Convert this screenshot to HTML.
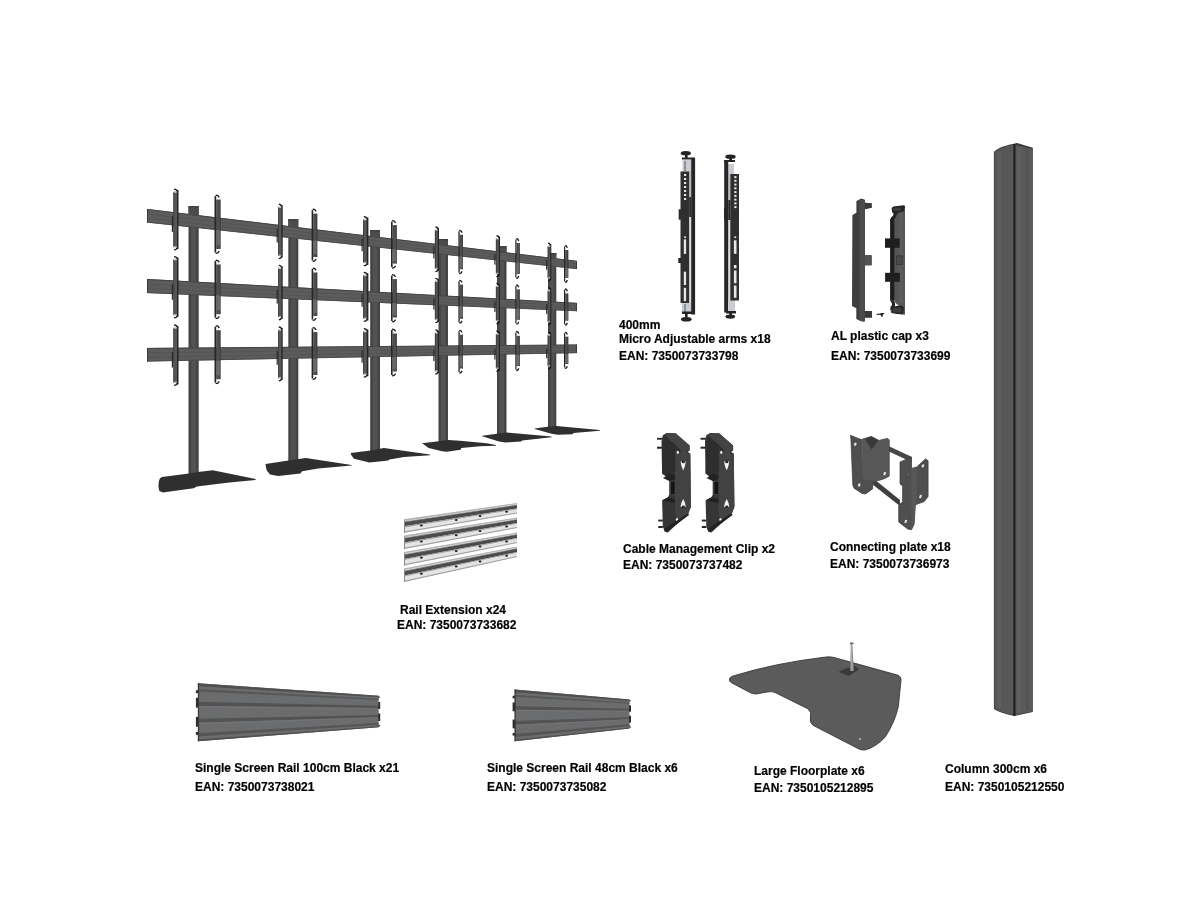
<!DOCTYPE html>
<html><head><meta charset="utf-8"><style>
html,body{margin:0;padding:0;background:#fff;width:1200px;height:900px;overflow:hidden}
svg{display:block;will-change:transform}
.t{font-family:"Liberation Sans",sans-serif;font-weight:bold;font-size:12px;fill:#000;stroke:#000;stroke-width:0.18px}
</style></head><body>
<svg width="1200" height="900" viewBox="0 0 1200 900">
<g id="stand">
<rect x="188.5" y="206.2" width="10.2" height="269.8" fill="#444"/>
<rect x="191.1" y="207.2" width="5.1" height="268.8" fill="#525252"/>
<rect x="288.3" y="219.3" width="10" height="245.7" fill="#444"/>
<rect x="290.8" y="220.3" width="5" height="244.7" fill="#525252"/>
<rect x="370.2" y="230" width="9.8" height="222" fill="#444"/>
<rect x="372.6" y="231" width="4.9" height="221" fill="#525252"/>
<rect x="438.5" y="239" width="9.5" height="204" fill="#444"/>
<rect x="440.9" y="240" width="4.8" height="203" fill="#525252"/>
<rect x="497" y="246.3" width="9.5" height="189.7" fill="#444"/>
<rect x="499.4" y="247.3" width="4.8" height="188.7" fill="#525252"/>
<rect x="548" y="253" width="8.3" height="176" fill="#444"/>
<rect x="550.1" y="254" width="4.1" height="175" fill="#525252"/>
<polygon points="162,476.9 189.1,473.4 197.9,472.1 212.7,470.3 255.6,479.1 255.6,480 229.4,482.6 225,483 197,486.5 193.5,488.2 162.9,492.6 159.3,491 158.4,486 158.9,481 160,478.3" fill="#2f2f2f"/>
<polygon points="265.5,464 288.4,460.5 305.8,458.1 351.7,464.9 351.7,465.6 318,468.5 302.2,471.3 300.3,473.5 278.3,476 270,474.5 266.8,470.5 265.8,466.5" fill="#2f2f2f"/>
<polygon points="350.8,452.9 370.5,450.5 383.9,448 430,454.5 430,455.2 404,457 389.5,459.5 388,460.5 369.3,462.6 354,458.8 351.2,455" fill="#2f2f2f"/>
<polygon points="422,443.3 438.7,441.3 448,440 460,440.7 486.7,443.3 496,445 496,445.7 480,446.3 461.3,448 460.7,449.7 446.7,451.7 442,451.3 428.7,448" fill="#2f2f2f"/>
<polygon points="482.2,435.8 496.9,433.7 506.4,432.6 551.5,436.6 551.5,437.3 522.1,440.5 521.1,441.5 505.3,442.6 499,441.5 482.2,436.3" fill="#2f2f2f"/>
<polygon points="534.7,428.4 547.3,426.8 556.3,426.1 599.8,430 599.8,430.7 573.6,433.1 572.5,434.2 557.8,434.7 551.5,433.7 534.7,428.9" fill="#2f2f2f"/>
<polygon points="147,209 577,261 577,268.9 147,222.5" fill="#5c5c5c"/>
<line x1="147" y1="209.4" x2="577" y2="261.3" stroke="#444" stroke-width="1.0"/>
<line x1="147" y1="213.9" x2="577" y2="263.9" stroke="#535353" stroke-width="0.9"/>
<line x1="147" y1="218.2" x2="577" y2="266.4" stroke="#535353" stroke-width="0.9"/>
<line x1="147" y1="222.1" x2="577" y2="268.7" stroke="#474747" stroke-width="0.9"/>
<line x1="147.5" y1="209" x2="147.5" y2="222.5" stroke="#3a3a3a" stroke-width="1"/>
<line x1="576.5" y1="261" x2="576.5" y2="268.9" stroke="#3a3a3a" stroke-width="1"/>
<polygon points="147,279 577,303.1 577,311.1 147,293" fill="#5c5c5c"/>
<line x1="147" y1="279.4" x2="577" y2="303.3" stroke="#444" stroke-width="1.0"/>
<line x1="147" y1="284" x2="577" y2="306" stroke="#535353" stroke-width="0.9"/>
<line x1="147" y1="288.5" x2="577" y2="308.5" stroke="#535353" stroke-width="0.9"/>
<line x1="147" y1="292.6" x2="577" y2="310.8" stroke="#474747" stroke-width="0.9"/>
<line x1="147.5" y1="279" x2="147.5" y2="293" stroke="#3a3a3a" stroke-width="1"/>
<line x1="576.5" y1="303.1" x2="576.5" y2="311.1" stroke="#3a3a3a" stroke-width="1"/>
<polygon points="147,348 577,344.7 577,352.9 147,361.5" fill="#5c5c5c"/>
<line x1="147" y1="348.4" x2="577" y2="344.9" stroke="#444" stroke-width="1.0"/>
<line x1="147" y1="352.9" x2="577" y2="347.6" stroke="#535353" stroke-width="0.9"/>
<line x1="147" y1="357.2" x2="577" y2="350.3" stroke="#535353" stroke-width="0.9"/>
<line x1="147" y1="361.1" x2="577" y2="352.7" stroke="#474747" stroke-width="0.9"/>
<line x1="147.5" y1="348" x2="147.5" y2="361.5" stroke="#3a3a3a" stroke-width="1"/>
<line x1="576.5" y1="344.7" x2="576.5" y2="352.9" stroke="#3a3a3a" stroke-width="1"/>
<rect x="188.5" y="206.2" width="10.2" height="8.4" fill="#4c4c4c"/>
<rect x="188.5" y="206.2" width="10.2" height="1.2" fill="#3e3e3e"/>
<rect x="288.3" y="219.3" width="10" height="7.4" fill="#4c4c4c"/>
<rect x="288.3" y="219.3" width="10" height="1.2" fill="#3e3e3e"/>
<rect x="370.2" y="230" width="9.8" height="6.6" fill="#4c4c4c"/>
<rect x="370.2" y="230" width="9.8" height="1.2" fill="#3e3e3e"/>
<rect x="438.5" y="239" width="9.5" height="5.8" fill="#4c4c4c"/>
<rect x="438.5" y="239" width="9.5" height="1.2" fill="#3e3e3e"/>
<rect x="497" y="246.3" width="9.5" height="5.6" fill="#4c4c4c"/>
<rect x="497" y="246.3" width="9.5" height="1.2" fill="#3e3e3e"/>
<rect x="548" y="253" width="8.3" height="5" fill="#4c4c4c"/>
<rect x="548" y="253" width="8.3" height="1.2" fill="#3e3e3e"/>
<rect x="173.4" y="192" width="4" height="55" fill="#575757"/>
<rect x="173.4" y="192" width="0.8" height="55" fill="#3a3a3a"/>
<rect x="177" y="190" width="1.5" height="59" fill="#262626"/>
<rect x="173.8" y="191" width="2.8" height="1.8" fill="#c8ccd0"/>
<rect x="173.8" y="246" width="2.8" height="1.5" fill="#a8acb0"/>
<rect x="171.8" y="216.4" width="1.2" height="15.5" fill="#2a2a2a"/>
<polyline points="174.1,189.1 176,189.5 177.4,191.3" fill="none" stroke="#151515" stroke-width="1.3"/>
<polyline points="174.1,249.9 176,249.5 177.4,247.7" fill="none" stroke="#151515" stroke-width="1.3"/>
<rect x="173.4" y="259.5" width="4" height="55.4" fill="#575757"/>
<rect x="173.4" y="259.5" width="0.8" height="55.4" fill="#3a3a3a"/>
<rect x="177" y="257.5" width="1.5" height="59.4" fill="#262626"/>
<rect x="173.8" y="258.5" width="2.8" height="1.8" fill="#c8ccd0"/>
<rect x="173.8" y="313.9" width="2.8" height="1.5" fill="#a8acb0"/>
<rect x="171.8" y="284.1" width="1.2" height="15.6" fill="#2a2a2a"/>
<polyline points="174.1,256.6 176,257 177.4,258.8" fill="none" stroke="#151515" stroke-width="1.3"/>
<polyline points="174.1,317.8 176,317.4 177.4,315.6" fill="none" stroke="#151515" stroke-width="1.3"/>
<rect x="173.4" y="327.9" width="4" height="54.6" fill="#575757"/>
<rect x="173.4" y="327.9" width="0.8" height="54.6" fill="#3a3a3a"/>
<rect x="177" y="325.9" width="1.5" height="58.6" fill="#262626"/>
<rect x="173.8" y="326.9" width="2.8" height="1.8" fill="#c8ccd0"/>
<rect x="173.8" y="381.5" width="2.8" height="1.5" fill="#a8acb0"/>
<rect x="171.8" y="352.1" width="1.2" height="15.4" fill="#2a2a2a"/>
<polyline points="174.1,325 176,325.4 177.4,327.2" fill="none" stroke="#151515" stroke-width="1.3"/>
<polyline points="174.1,385.4 176,385 177.4,383.2" fill="none" stroke="#151515" stroke-width="1.3"/>
<rect x="216.2" y="199.6" width="4.1" height="49.4" fill="#4e4e4e"/>
<rect x="219.8" y="199.6" width="0.7" height="49.4" fill="#333"/>
<rect x="214.5" y="196.1" width="1.7" height="56.4" fill="#262626"/>
<rect x="216.3" y="230.2" width="3.6" height="14.9" fill="#6a6a6a"/>
<polyline points="215.7,195.2 217.8,195.6 219.3,197.4" fill="none" stroke="#151515" stroke-width="1.3"/>
<polyline points="215.7,253.4 217.8,253 219.3,251.2" fill="none" stroke="#151515" stroke-width="1.3"/>
<rect x="216.2" y="264.5" width="4.1" height="49.7" fill="#4e4e4e"/>
<rect x="219.8" y="264.5" width="0.7" height="49.7" fill="#333"/>
<rect x="214.5" y="261" width="1.7" height="56.7" fill="#262626"/>
<rect x="216.3" y="295.3" width="3.6" height="14.9" fill="#6a6a6a"/>
<polyline points="215.7,260.1 217.8,260.5 219.3,262.3" fill="none" stroke="#151515" stroke-width="1.3"/>
<polyline points="215.7,318.6 217.8,318.2 219.3,316.4" fill="none" stroke="#151515" stroke-width="1.3"/>
<rect x="216.2" y="330.2" width="4.1" height="49" fill="#4e4e4e"/>
<rect x="219.8" y="330.2" width="0.7" height="49" fill="#333"/>
<rect x="214.5" y="326.7" width="1.7" height="56" fill="#262626"/>
<rect x="216.3" y="360.6" width="3.6" height="14.7" fill="#6a6a6a"/>
<polyline points="215.7,325.8 217.8,326.2 219.3,328" fill="none" stroke="#151515" stroke-width="1.3"/>
<polyline points="215.7,383.6 217.8,383.2 219.3,381.4" fill="none" stroke="#151515" stroke-width="1.3"/>
<rect x="278.2" y="207.1" width="3.5" height="48.5" fill="#575757"/>
<rect x="278.2" y="207.1" width="0.8" height="48.5" fill="#3a3a3a"/>
<rect x="281.3" y="205.1" width="1.4" height="52.5" fill="#262626"/>
<rect x="278.6" y="206.1" width="2.4" height="1.8" fill="#c8ccd0"/>
<rect x="278.6" y="254.7" width="2.4" height="1.5" fill="#a8acb0"/>
<rect x="276.6" y="228.6" width="1.2" height="13.9" fill="#2a2a2a"/>
<polyline points="278.8,204.2 280.5,204.6 281.7,206.4" fill="none" stroke="#151515" stroke-width="1.3"/>
<polyline points="278.8,258.6 280.5,258.2 281.7,256.4" fill="none" stroke="#151515" stroke-width="1.3"/>
<rect x="278.2" y="268.2" width="3.5" height="48.7" fill="#575757"/>
<rect x="278.2" y="268.2" width="0.8" height="48.7" fill="#3a3a3a"/>
<rect x="281.3" y="266.2" width="1.4" height="52.7" fill="#262626"/>
<rect x="278.6" y="267.2" width="2.4" height="1.8" fill="#c8ccd0"/>
<rect x="278.6" y="315.9" width="2.4" height="1.5" fill="#a8acb0"/>
<rect x="276.6" y="289.7" width="1.2" height="13.9" fill="#2a2a2a"/>
<polyline points="278.8,265.3 280.5,265.7 281.7,267.5" fill="none" stroke="#151515" stroke-width="1.3"/>
<polyline points="278.8,319.8 280.5,319.4 281.7,317.6" fill="none" stroke="#151515" stroke-width="1.3"/>
<rect x="278.2" y="329.9" width="3.5" height="48.1" fill="#575757"/>
<rect x="278.2" y="329.9" width="0.8" height="48.1" fill="#3a3a3a"/>
<rect x="281.3" y="327.9" width="1.4" height="52.1" fill="#262626"/>
<rect x="278.6" y="328.9" width="2.4" height="1.8" fill="#c8ccd0"/>
<rect x="278.6" y="376.9" width="2.4" height="1.5" fill="#a8acb0"/>
<rect x="276.6" y="351.1" width="1.2" height="13.8" fill="#2a2a2a"/>
<polyline points="278.8,327 280.5,327.4 281.7,329.2" fill="none" stroke="#151515" stroke-width="1.3"/>
<polyline points="278.8,380.8 280.5,380.4 281.7,378.6" fill="none" stroke="#151515" stroke-width="1.3"/>
<rect x="313.2" y="213.6" width="3.9" height="43.4" fill="#4e4e4e"/>
<rect x="316.6" y="213.6" width="0.7" height="43.4" fill="#333"/>
<rect x="311.6" y="210.1" width="1.6" height="50.4" fill="#262626"/>
<rect x="313.3" y="240.6" width="3.4" height="13.4" fill="#6a6a6a"/>
<polyline points="312.7,209.2 314.7,209.6 316.2,211.4" fill="none" stroke="#151515" stroke-width="1.3"/>
<polyline points="312.7,261.4 314.7,261 316.2,259.2" fill="none" stroke="#151515" stroke-width="1.3"/>
<rect x="313.2" y="272.5" width="3.9" height="43.5" fill="#4e4e4e"/>
<rect x="316.6" y="272.5" width="0.7" height="43.5" fill="#333"/>
<rect x="311.6" y="269" width="1.6" height="50.5" fill="#262626"/>
<rect x="313.3" y="299.6" width="3.4" height="13.4" fill="#6a6a6a"/>
<polyline points="312.7,268.1 314.7,268.5 316.2,270.3" fill="none" stroke="#151515" stroke-width="1.3"/>
<polyline points="312.7,320.4 314.7,320 316.2,318.2" fill="none" stroke="#151515" stroke-width="1.3"/>
<rect x="313.2" y="332" width="3.9" height="43" fill="#4e4e4e"/>
<rect x="316.6" y="332" width="0.7" height="43" fill="#333"/>
<rect x="311.6" y="328.5" width="1.6" height="50" fill="#262626"/>
<rect x="313.3" y="358.8" width="3.4" height="13.2" fill="#6a6a6a"/>
<polyline points="312.7,327.6 314.7,328 316.2,329.8" fill="none" stroke="#151515" stroke-width="1.3"/>
<polyline points="312.7,379.4 314.7,379 316.2,377.2" fill="none" stroke="#151515" stroke-width="1.3"/>
<rect x="363.1" y="219.5" width="4.1" height="43.3" fill="#575757"/>
<rect x="363.1" y="219.5" width="0.8" height="43.3" fill="#3a3a3a"/>
<rect x="366.8" y="217.5" width="1.6" height="47.3" fill="#262626"/>
<rect x="363.5" y="218.5" width="2.8" height="1.8" fill="#c8ccd0"/>
<rect x="363.5" y="261.8" width="2.8" height="1.5" fill="#a8acb0"/>
<rect x="361.5" y="238.6" width="1.2" height="12.6" fill="#2a2a2a"/>
<polyline points="363.8,216.6 365.8,217 367.3,218.8" fill="none" stroke="#151515" stroke-width="1.3"/>
<polyline points="363.8,265.7 365.8,265.3 367.3,263.5" fill="none" stroke="#151515" stroke-width="1.3"/>
<rect x="363.1" y="275.3" width="4.1" height="43.2" fill="#575757"/>
<rect x="363.1" y="275.3" width="0.8" height="43.2" fill="#3a3a3a"/>
<rect x="366.8" y="273.3" width="1.6" height="47.2" fill="#262626"/>
<rect x="363.5" y="274.3" width="2.8" height="1.8" fill="#c8ccd0"/>
<rect x="363.5" y="317.5" width="2.8" height="1.5" fill="#a8acb0"/>
<rect x="361.5" y="294.3" width="1.2" height="12.5" fill="#2a2a2a"/>
<polyline points="363.8,272.4 365.8,272.8 367.3,274.6" fill="none" stroke="#151515" stroke-width="1.3"/>
<polyline points="363.8,321.4 365.8,321 367.3,319.2" fill="none" stroke="#151515" stroke-width="1.3"/>
<rect x="363.1" y="331.5" width="4.1" height="42.8" fill="#575757"/>
<rect x="363.1" y="331.5" width="0.8" height="42.8" fill="#3a3a3a"/>
<rect x="366.8" y="329.5" width="1.6" height="46.8" fill="#262626"/>
<rect x="363.5" y="330.5" width="2.8" height="1.8" fill="#c8ccd0"/>
<rect x="363.5" y="373.2" width="2.8" height="1.5" fill="#a8acb0"/>
<rect x="361.5" y="350.3" width="1.2" height="12.4" fill="#2a2a2a"/>
<polyline points="363.8,328.6 365.8,329 367.3,330.8" fill="none" stroke="#151515" stroke-width="1.3"/>
<polyline points="363.8,377.1 365.8,376.7 367.3,374.9" fill="none" stroke="#151515" stroke-width="1.3"/>
<rect x="392.6" y="225.1" width="3.9" height="38.5" fill="#4e4e4e"/>
<rect x="396" y="225.1" width="0.7" height="38.5" fill="#333"/>
<rect x="391" y="221.6" width="1.6" height="45.5" fill="#262626"/>
<rect x="392.7" y="249.2" width="3.4" height="12.1" fill="#6a6a6a"/>
<polyline points="392.1,220.7 394.1,221.1 395.6,222.9" fill="none" stroke="#151515" stroke-width="1.3"/>
<polyline points="392.1,268 394.1,267.6 395.6,265.8" fill="none" stroke="#151515" stroke-width="1.3"/>
<rect x="392.6" y="279.1" width="3.9" height="38.4" fill="#4e4e4e"/>
<rect x="396" y="279.1" width="0.7" height="38.4" fill="#333"/>
<rect x="391" y="275.6" width="1.6" height="45.4" fill="#262626"/>
<rect x="392.7" y="303.1" width="3.4" height="12.1" fill="#6a6a6a"/>
<polyline points="392.1,274.7 394.1,275.1 395.6,276.9" fill="none" stroke="#151515" stroke-width="1.3"/>
<polyline points="392.1,321.9 394.1,321.5 395.6,319.7" fill="none" stroke="#151515" stroke-width="1.3"/>
<rect x="392.6" y="333.5" width="3.9" height="38" fill="#4e4e4e"/>
<rect x="396" y="333.5" width="0.7" height="38" fill="#333"/>
<rect x="391" y="330" width="1.6" height="45" fill="#262626"/>
<rect x="392.7" y="357.3" width="3.4" height="12" fill="#6a6a6a"/>
<polyline points="392.1,329.1 394.1,329.5 395.6,331.3" fill="none" stroke="#151515" stroke-width="1.3"/>
<polyline points="392.1,375.9 394.1,375.5 395.6,373.7" fill="none" stroke="#151515" stroke-width="1.3"/>
<rect x="434.9" y="229.8" width="3.2" height="38.9" fill="#575757"/>
<rect x="434.9" y="229.8" width="0.8" height="38.9" fill="#3a3a3a"/>
<rect x="437.7" y="227.8" width="1.3" height="42.9" fill="#262626"/>
<rect x="435.3" y="228.8" width="2.2" height="1.8" fill="#c8ccd0"/>
<rect x="435.3" y="267.7" width="2.2" height="1.5" fill="#a8acb0"/>
<rect x="433.3" y="246.9" width="1.2" height="11.5" fill="#2a2a2a"/>
<polyline points="435.4,226.9 437,227.3 438.1,229.1" fill="none" stroke="#151515" stroke-width="1.3"/>
<polyline points="435.4,271.6 437,271.2 438.1,269.4" fill="none" stroke="#151515" stroke-width="1.3"/>
<rect x="434.9" y="281.2" width="3.2" height="38.6" fill="#575757"/>
<rect x="434.9" y="281.2" width="0.8" height="38.6" fill="#3a3a3a"/>
<rect x="437.7" y="279.2" width="1.3" height="42.6" fill="#262626"/>
<rect x="435.3" y="280.2" width="2.2" height="1.8" fill="#c8ccd0"/>
<rect x="435.3" y="318.8" width="2.2" height="1.5" fill="#a8acb0"/>
<rect x="433.3" y="298.2" width="1.2" height="11.4" fill="#2a2a2a"/>
<polyline points="435.4,278.3 437,278.7 438.1,280.5" fill="none" stroke="#151515" stroke-width="1.3"/>
<polyline points="435.4,322.7 437,322.3 438.1,320.5" fill="none" stroke="#151515" stroke-width="1.3"/>
<rect x="434.9" y="332.8" width="3.2" height="38.3" fill="#575757"/>
<rect x="434.9" y="332.8" width="0.8" height="38.3" fill="#3a3a3a"/>
<rect x="437.7" y="330.8" width="1.3" height="42.3" fill="#262626"/>
<rect x="435.3" y="331.8" width="2.2" height="1.8" fill="#c8ccd0"/>
<rect x="435.3" y="370.1" width="2.2" height="1.5" fill="#a8acb0"/>
<rect x="433.3" y="349.7" width="1.2" height="11.3" fill="#2a2a2a"/>
<polyline points="435.4,329.9 437,330.3 438.1,332.1" fill="none" stroke="#151515" stroke-width="1.3"/>
<polyline points="435.4,374 437,373.6 438.1,371.8" fill="none" stroke="#151515" stroke-width="1.3"/>
<rect x="459.7" y="234.8" width="3.1" height="34.4" fill="#4e4e4e"/>
<rect x="462.3" y="234.8" width="0.7" height="34.4" fill="#333"/>
<rect x="458.4" y="231.3" width="1.3" height="41.4" fill="#262626"/>
<rect x="459.8" y="256.4" width="2.8" height="11.1" fill="#6a6a6a"/>
<polyline points="459.3,230.4 460.9,230.8 462.1,232.6" fill="none" stroke="#151515" stroke-width="1.3"/>
<polyline points="459.3,273.6 460.9,273.2 462.1,271.4" fill="none" stroke="#151515" stroke-width="1.3"/>
<rect x="459.7" y="284.7" width="3.1" height="34.1" fill="#4e4e4e"/>
<rect x="462.3" y="284.7" width="0.7" height="34.1" fill="#333"/>
<rect x="458.4" y="281.2" width="1.3" height="41.1" fill="#262626"/>
<rect x="459.8" y="306.1" width="2.8" height="11" fill="#6a6a6a"/>
<polyline points="459.3,280.3 460.9,280.7 462.1,282.5" fill="none" stroke="#151515" stroke-width="1.3"/>
<polyline points="459.3,323.1 460.9,322.7 462.1,320.9" fill="none" stroke="#151515" stroke-width="1.3"/>
<rect x="459.7" y="334.7" width="3.1" height="33.8" fill="#4e4e4e"/>
<rect x="462.3" y="334.7" width="0.7" height="33.8" fill="#333"/>
<rect x="458.4" y="331.2" width="1.3" height="40.8" fill="#262626"/>
<rect x="459.8" y="356" width="2.8" height="11" fill="#6a6a6a"/>
<polyline points="459.3,330.3 460.9,330.7 462.1,332.5" fill="none" stroke="#151515" stroke-width="1.3"/>
<polyline points="459.3,373 460.9,372.6 462.1,370.8" fill="none" stroke="#151515" stroke-width="1.3"/>
<rect x="495.9" y="238.6" width="3.2" height="35.1" fill="#575757"/>
<rect x="495.9" y="238.6" width="0.8" height="35.1" fill="#3a3a3a"/>
<rect x="498.7" y="236.6" width="1.3" height="39.1" fill="#262626"/>
<rect x="496.3" y="237.6" width="2.2" height="1.8" fill="#c8ccd0"/>
<rect x="496.3" y="272.7" width="2.2" height="1.5" fill="#a8acb0"/>
<rect x="494.3" y="254.1" width="1.2" height="10.5" fill="#2a2a2a"/>
<polyline points="496.4,235.7 498,236.1 499.1,237.9" fill="none" stroke="#151515" stroke-width="1.3"/>
<polyline points="496.4,276.6 498,276.2 499.1,274.4" fill="none" stroke="#151515" stroke-width="1.3"/>
<rect x="495.9" y="286.2" width="3.2" height="34.7" fill="#575757"/>
<rect x="495.9" y="286.2" width="0.8" height="34.7" fill="#3a3a3a"/>
<rect x="498.7" y="284.2" width="1.3" height="38.7" fill="#262626"/>
<rect x="496.3" y="285.2" width="2.2" height="1.8" fill="#c8ccd0"/>
<rect x="496.3" y="319.9" width="2.2" height="1.5" fill="#a8acb0"/>
<rect x="494.3" y="301.5" width="1.2" height="10.4" fill="#2a2a2a"/>
<polyline points="496.4,283.3 498,283.7 499.1,285.5" fill="none" stroke="#151515" stroke-width="1.3"/>
<polyline points="496.4,323.8 498,323.4 499.1,321.6" fill="none" stroke="#151515" stroke-width="1.3"/>
<rect x="495.9" y="333.9" width="3.2" height="34.5" fill="#575757"/>
<rect x="495.9" y="333.9" width="0.8" height="34.5" fill="#3a3a3a"/>
<rect x="498.7" y="331.9" width="1.3" height="38.5" fill="#262626"/>
<rect x="496.3" y="332.9" width="2.2" height="1.8" fill="#c8ccd0"/>
<rect x="496.3" y="367.5" width="2.2" height="1.5" fill="#a8acb0"/>
<rect x="494.3" y="349.1" width="1.2" height="10.4" fill="#2a2a2a"/>
<polyline points="496.4,331 498,331.4 499.1,333.2" fill="none" stroke="#151515" stroke-width="1.3"/>
<polyline points="496.4,371.4 498,371 499.1,369.2" fill="none" stroke="#151515" stroke-width="1.3"/>
<rect x="516.5" y="243" width="3" height="30.9" fill="#4e4e4e"/>
<rect x="519" y="243" width="0.7" height="30.9" fill="#333"/>
<rect x="515.3" y="239.5" width="1.2" height="37.9" fill="#262626"/>
<rect x="516.6" y="262.5" width="2.6" height="10.2" fill="#6a6a6a"/>
<polyline points="516.2,238.6 517.7,239 518.8,240.8" fill="none" stroke="#151515" stroke-width="1.3"/>
<polyline points="516.2,278.3 517.7,277.9 518.8,276.1" fill="none" stroke="#151515" stroke-width="1.3"/>
<rect x="516.5" y="289.4" width="3" height="30.4" fill="#4e4e4e"/>
<rect x="519" y="289.4" width="0.7" height="30.4" fill="#333"/>
<rect x="515.3" y="285.9" width="1.2" height="37.4" fill="#262626"/>
<rect x="516.6" y="308.6" width="2.6" height="10.1" fill="#6a6a6a"/>
<polyline points="516.2,285 517.7,285.4 518.8,287.2" fill="none" stroke="#151515" stroke-width="1.3"/>
<polyline points="516.2,324.2 517.7,323.8 518.8,322" fill="none" stroke="#151515" stroke-width="1.3"/>
<rect x="516.5" y="335.8" width="3" height="30.3" fill="#4e4e4e"/>
<rect x="519" y="335.8" width="0.7" height="30.3" fill="#333"/>
<rect x="515.3" y="332.3" width="1.2" height="37.3" fill="#262626"/>
<rect x="516.6" y="355" width="2.6" height="10.1" fill="#6a6a6a"/>
<polyline points="516.2,331.4 517.7,331.8 518.8,333.6" fill="none" stroke="#151515" stroke-width="1.3"/>
<polyline points="516.2,370.5 517.7,370.1 518.8,368.3" fill="none" stroke="#151515" stroke-width="1.3"/>
<rect x="547.7" y="246.1" width="2.9" height="31.9" fill="#575757"/>
<rect x="547.7" y="246.1" width="0.8" height="31.9" fill="#3a3a3a"/>
<rect x="550.2" y="244.1" width="1.1" height="35.9" fill="#262626"/>
<rect x="548.1" y="245.1" width="2" height="1.8" fill="#c8ccd0"/>
<rect x="548.1" y="277" width="2" height="1.5" fill="#a8acb0"/>
<rect x="546.1" y="260.1" width="1.2" height="9.7" fill="#2a2a2a"/>
<polyline points="548.1,243.2 549.5,243.6 550.5,245.4" fill="none" stroke="#151515" stroke-width="1.3"/>
<polyline points="548.1,280.9 549.5,280.5 550.5,278.7" fill="none" stroke="#151515" stroke-width="1.3"/>
<rect x="547.7" y="290.5" width="2.9" height="31.4" fill="#575757"/>
<rect x="547.7" y="290.5" width="0.8" height="31.4" fill="#3a3a3a"/>
<rect x="550.2" y="288.5" width="1.1" height="35.4" fill="#262626"/>
<rect x="548.1" y="289.5" width="2" height="1.8" fill="#c8ccd0"/>
<rect x="548.1" y="320.9" width="2" height="1.5" fill="#a8acb0"/>
<rect x="546.1" y="304.3" width="1.2" height="9.6" fill="#2a2a2a"/>
<polyline points="548.1,287.6 549.5,288 550.5,289.8" fill="none" stroke="#151515" stroke-width="1.3"/>
<polyline points="548.1,324.8 549.5,324.4 550.5,322.6" fill="none" stroke="#151515" stroke-width="1.3"/>
<rect x="547.7" y="334.9" width="2.9" height="31.3" fill="#575757"/>
<rect x="547.7" y="334.9" width="0.8" height="31.3" fill="#3a3a3a"/>
<rect x="550.2" y="332.9" width="1.1" height="35.3" fill="#262626"/>
<rect x="548.1" y="333.9" width="2" height="1.8" fill="#c8ccd0"/>
<rect x="548.1" y="365.2" width="2" height="1.5" fill="#a8acb0"/>
<rect x="546.1" y="348.6" width="1.2" height="9.6" fill="#2a2a2a"/>
<polyline points="548.1,332 549.5,332.4 550.5,334.2" fill="none" stroke="#151515" stroke-width="1.3"/>
<polyline points="548.1,369.1 549.5,368.7 550.5,366.9" fill="none" stroke="#151515" stroke-width="1.3"/>
<rect x="565.2" y="250" width="2.9" height="27.9" fill="#4e4e4e"/>
<rect x="567.6" y="250" width="0.7" height="27.9" fill="#333"/>
<rect x="564" y="246.5" width="1.2" height="34.9" fill="#262626"/>
<rect x="565.3" y="267.8" width="2.6" height="9.5" fill="#6a6a6a"/>
<polyline points="564.9,245.6 566.4,246 567.4,247.8" fill="none" stroke="#151515" stroke-width="1.3"/>
<polyline points="564.9,282.3 566.4,281.9 567.4,280.1" fill="none" stroke="#151515" stroke-width="1.3"/>
<rect x="565.2" y="293.4" width="2.9" height="27.3" fill="#4e4e4e"/>
<rect x="567.6" y="293.4" width="0.7" height="27.3" fill="#333"/>
<rect x="564" y="289.9" width="1.2" height="34.3" fill="#262626"/>
<rect x="565.3" y="310.8" width="2.6" height="9.3" fill="#6a6a6a"/>
<polyline points="564.9,289 566.4,289.4 567.4,291.2" fill="none" stroke="#151515" stroke-width="1.3"/>
<polyline points="564.9,325.1 566.4,324.7 567.4,322.9" fill="none" stroke="#151515" stroke-width="1.3"/>
<rect x="565.2" y="336.7" width="2.9" height="27.3" fill="#4e4e4e"/>
<rect x="567.6" y="336.7" width="0.7" height="27.3" fill="#333"/>
<rect x="564" y="333.2" width="1.2" height="34.3" fill="#262626"/>
<rect x="565.3" y="354.1" width="2.6" height="9.3" fill="#6a6a6a"/>
<polyline points="564.9,332.3 566.4,332.7 567.4,334.5" fill="none" stroke="#151515" stroke-width="1.3"/>
<polyline points="564.9,368.4 566.4,368 567.4,366.2" fill="none" stroke="#151515" stroke-width="1.3"/>
</g>
<g id="microarms">
<rect x="681.7" y="303" width="10" height="10" fill="#c9ccd0"/>
<rect x="682.5" y="160" width="9" height="12" fill="#c9ccd0"/>
<rect x="684" y="161" width="2" height="10" fill="#8d9297"/>
<rect x="684" y="304" width="2" height="9" fill="#8d9297"/>
<rect x="680.5" y="171.5" width="9" height="131.5" fill="#2f2f2f"/>
<rect x="689.3" y="171" width="2" height="26" fill="#b4bcc4"/>
<rect x="689.3" y="197" width="2" height="20" fill="#2a2a2a"/>
<rect x="689.3" y="217" width="1.8" height="86" fill="#dcdcdc"/>
<rect x="691.2" y="158.5" width="3.9" height="156" fill="#262626"/>
<rect x="682" y="157.5" width="13" height="2" fill="#262626"/>
<rect x="682" y="311.5" width="13" height="2.5" fill="#262626"/>
<rect x="685" y="154.5" width="2.6" height="4" fill="#222"/>
<ellipse cx="685.8" cy="153.3" rx="5" ry="2.2" fill="#232323"/>
<rect x="685" y="313.5" width="2.6" height="4" fill="#222"/>
<ellipse cx="686.3" cy="319.3" rx="5.3" ry="2.3" fill="#232323"/>
<rect x="678.7" y="209.3" width="2.2" height="10.4" fill="#262626"/>
<rect x="678.3" y="258" width="2.7" height="5" fill="#262626"/>
<rect x="684" y="174" width="2.2" height="2" fill="#e8e8e8"/>
<rect x="684" y="178" width="2.2" height="2" fill="#e8e8e8"/>
<rect x="684" y="182" width="2.2" height="2" fill="#e8e8e8"/>
<rect x="684" y="186" width="2.2" height="2" fill="#e8e8e8"/>
<rect x="684" y="190" width="2.2" height="2" fill="#e8e8e8"/>
<rect x="684" y="194" width="2.2" height="2" fill="#e8e8e8"/>
<rect x="684" y="198" width="2.2" height="2" fill="#e8e8e8"/>
<rect x="683.8" y="239.4" width="2.3" height="14.5" fill="#e6e6e6"/>
<rect x="683.8" y="271.7" width="2.3" height="13.3" fill="#e6e6e6"/>
<rect x="683.8" y="287.8" width="2.3" height="13.3" fill="#e6e6e6"/>
<rect x="684.2" y="236.3" width="1.8" height="1.8" fill="#e0e0e0"/>
<rect x="728" y="164" width="6" height="10" fill="#c9ccd0"/>
<rect x="729" y="300" width="6" height="12" fill="#c9ccd0"/>
<rect x="730.2" y="174" width="8.8" height="126.5" fill="#2f2f2f"/>
<rect x="728.2" y="174" width="2" height="26" fill="#b4bcc4"/>
<rect x="728.2" y="200" width="2" height="20" fill="#2a2a2a"/>
<rect x="728.3" y="220" width="1.8" height="80" fill="#dcdcdc"/>
<rect x="724.2" y="161.5" width="4" height="151" fill="#262626"/>
<rect x="724" y="160" width="11" height="2" fill="#262626"/>
<rect x="726" y="311" width="10" height="2.5" fill="#262626"/>
<rect x="729.3" y="157.5" width="2.6" height="4" fill="#222"/>
<ellipse cx="730.5" cy="156.7" rx="5.2" ry="2.2" fill="#232323"/>
<rect x="729.3" y="312.5" width="2.6" height="3" fill="#222"/>
<ellipse cx="730.3" cy="316.6" rx="4.8" ry="2.2" fill="#232323"/>
<rect x="724" y="208.3" width="4" height="12" fill="#262626"/>
<rect x="734.3" y="176.1" width="2.2" height="2" fill="#e8e8e8"/>
<rect x="734.3" y="179.79999999999998" width="2.2" height="2" fill="#e8e8e8"/>
<rect x="734.3" y="183.6" width="2.2" height="2" fill="#e8e8e8"/>
<rect x="734.3" y="187.29999999999998" width="2.2" height="2" fill="#e8e8e8"/>
<rect x="734.3" y="191.1" width="2.2" height="2" fill="#e8e8e8"/>
<rect x="734.3" y="194.9" width="2.2" height="2" fill="#e8e8e8"/>
<rect x="734.3" y="198.6" width="2.2" height="2" fill="#e8e8e8"/>
<rect x="734.3" y="202.4" width="2.2" height="2" fill="#e8e8e8"/>
<rect x="734.3" y="206.1" width="2.2" height="2" fill="#e8e8e8"/>
<rect x="733.9" y="240.3" width="2.6" height="13.5" fill="#e6e6e6"/>
<rect x="733.9" y="265" width="2.6" height="3.3" fill="#e6e6e6"/>
<rect x="733.9" y="270.5" width="2.6" height="12.8" fill="#e6e6e6"/>
<rect x="733.9" y="285.5" width="2.6" height="12.3" fill="#e6e6e6"/>
<rect x="734.4" y="236.3" width="1.8" height="1.8" fill="#e0e0e0"/>
</g>
<g id="caps">
<polygon points="852.4,214.9 856.4,212.7 856.4,201.1 861.3,198.4 864.9,199.8 864.9,202.4 871.6,203.8 871.6,207.8 866.7,209.1 864.9,209.1 864.9,255.3 871.6,255.3 871.6,265.3 864.9,265.3 864.9,311 871.9,311 871.9,317.6 864.9,317.6 864.9,321.4 862.6,321.8 856.3,319.1 856.3,308.2 852,305.9" fill="#3e3e3e"/>
<rect x="859.5" y="200" width="5.4" height="121" fill="#4c4c4c"/>
<rect x="864.9" y="255.3" width="6.7" height="10" fill="#525252"/>
<rect x="864.9" y="203" width="6.7" height="5" fill="#3a3a3a"/>
<rect x="864.9" y="311" width="7" height="6.6" fill="#3a3a3a"/>
<polygon points="896.5,212.5 904,205.6 905,206.5 905,314.8 902.5,314.5 898.5,305.5 895.5,303 894.3,300.4 890.2,300.4 890.2,219.3 894,218.5 896.5,215" fill="#555"/>
<rect x="899" y="207" width="4" height="107" fill="#5b5b5b"/>
<polygon points="890.2,219.3 894.3,218.5 894.3,300.4 890.2,300.4" fill="#1e1e1e"/>
<path d="M891.6,209 Q891.8,206.6 895,206.3 L904,205.2 L905.2,206.5 L903.5,211.5 L898.5,212.8 Q896.8,213.4 896.6,215.5 L894.8,219 L890.2,219.6 L891.2,217.2 Q893.8,216 893.6,213.8 Q891.6,212.6 891.6,209 Z" fill="#232323"/>
<rect x="893.2" y="207.6" width="8" height="3.4" fill="#3a3a3a"/>
<path d="M891.3,313 Q891,308 894,306.8 Q895.5,306 895,303.5 L894.3,300.4 L890.2,300.4 L891,302 Q892.5,303.5 892,305 Q890,306.5 890.3,309.5 Z" fill="#232323"/>
<path d="M891.3,313 L891.5,307.5 Q892,306.3 894,306.3 L902.2,305.5 L904,308 L903,314.5 Q897,314 891.3,313 Z" fill="#262626"/>
<rect x="893" y="308" width="8.5" height="4.5" fill="#3c3c3c"/>
<rect x="885" y="238.4" width="14.7" height="9.4" fill="#1f1f1f"/>
<rect x="885.1" y="272.8" width="14.8" height="9" fill="#1f1f1f"/>
<rect x="896" y="255.3" width="6.7" height="9.8" fill="#3a3a3a"/>
<rect x="897" y="256.5" width="4.7" height="7.5" fill="#4a4a4a"/>
<polygon points="876.6,314 880,313.6 881.5,313 884.7,312.9 883,314.5 882.5,316.8 881.5,316.8 880.5,314.8 876.6,315" fill="#222"/>
</g>
<g id="column">
<path d="M993.9,151.7 Q1000,146 1017,143 L1032.8,147.8 L1032.8,712 L1014.4,716 Q1000,713 993.9,708.9 Z" fill="#3a3a3a"/>
<path d="M994.6,152.3 Q1001,147 1013.5,144.8 L1013.5,715 Q1001,712.5 994.6,708.5 Z" fill="#575757"/>
<path d="M1015.5,145 L1032.2,149 L1032.2,711.5 L1015.5,715 Z" fill="#5a5a5a"/>
<rect x="998" y="153" width="3" height="555" fill="#5e5e5e"/>
<rect x="1018" y="148" width="3" height="565" fill="#5f5f5f"/>
<rect x="1026" y="149" width="3" height="562" fill="#545454"/>
<rect x="1013.5" y="144" width="1.8" height="572" fill="#1e1e1e"/>
</g>
<g id="floorplate">
<path d="M729.5,680 Q728.8,677.5 733,676 Q775,663 826,657 Q830,656.5 834,657.5 L898.3,675.3 Q901.5,677 901,680 L898.3,706.7 Q895,722 885,737.3 Q876,747 865,750 Q861,750.5 857,748 L813,725.3 Q809,722 810.5,717 Q812,712 807.7,708.7 L775,692.5 Q772,691 767,692 L756,694 Q752,694 749,692 L731,682.5 Q729.5,681.5 729.5,680 Z" fill="#5b5b5b" stroke="#383838" stroke-width="0.9"/>
<polygon points="838.3,672 845,668.7 855.7,666 859,669.3 849,676" fill="#3a3a3a"/>
<polygon points="850.8,644 852.4,644 853.8,671 850.2,671" fill="#8a8a8a"/>
<line x1="851.2" y1="644" x2="851.9" y2="671" stroke="#bdbdbd" stroke-width="0.7"/>
<rect x="850" y="642.5" width="3.4" height="1.6" fill="#666"/>
<circle cx="860" cy="739" r="0.9" fill="#cfcfcf"/>
</g>
<g id="clips">
<g transform="translate(0,0)">
<rect x="657" y="437.8" width="5.8" height="1.9" fill="#262626"/>
<rect x="657" y="446.7" width="5.8" height="2" fill="#262626"/>
<rect x="658.3" y="519.6" width="4.5" height="1.9" fill="#262626"/>
<rect x="658.3" y="526" width="4.5" height="2" fill="#262626"/>
<polygon points="662.8,435.2 666.6,432.9 675.6,433.3 689.6,445.5 689.6,450.6 687.7,451.8 690.3,453.8 690.9,506.8 688.4,513.2 667.9,532.4 664.7,531.7 662.8,526.6 662.1,500.4 667.9,497.2 669.2,494.7 669.2,478.7 662.1,473.6 661.5,441.6" fill="#353535"/>
<polygon points="675.5,451 690.3,453.8 690.9,506.8 688.8,512.5 676.5,521 675,510 675,470" fill="#424242"/>
<polygon points="662.5,442 666,437 675,447 675.5,470 669.2,478.7 662.1,473.6" fill="#2e2e2e"/>
<polygon points="666,434 675.6,433.3 689.6,445.5 689.6,450.6 686.8,450 686.8,461 681.3,461 681.3,451 674,443 666,438" fill="#444"/>
<polyline points="666,437 675,446 680.5,451.5" fill="none" stroke="#222" stroke-width="0.8"/>
<polygon points="663,478 669.2,481 675,479 675,475 669.2,474" fill="#222"/>
<polygon points="662.5,500 668,497.5 675,499 675,503 668,501.5" fill="#222"/>
<rect x="670.3" y="481" width="5.2" height="13.5" fill="#4a4a4a"/>
<rect x="670.9" y="481.6" width="3.9" height="12.3" fill="#141414"/>
<ellipse cx="677.8" cy="452.3" rx="1.1" ry="1.6" fill="#f2f2f2"/>
<path d="M680.6,461.6 L685.7,461.6 Q685.4,466.5 683.2,470.4 Q681,466.5 680.6,461.6 Z" fill="#f4f4f4"/>
<ellipse cx="683.3" cy="461.9" rx="1.6" ry="1.3" fill="#262626"/>
<path d="M683.2,499 Q685.5,502.5 685.7,507 L680.6,507 Q681,502.5 683.2,499 Z" fill="#f4f4f4"/>
<ellipse cx="683.3" cy="506.8" rx="1.6" ry="1.3" fill="#262626"/>
<ellipse cx="677" cy="519.5" rx="1.2" ry="1.6" fill="#ececec"/>
<polygon points="664,529 688.4,513.2 689,515 666.5,532" fill="#222"/>
</g>
<g transform="translate(43.5,0)">
<rect x="657" y="437.8" width="5.8" height="1.9" fill="#262626"/>
<rect x="657" y="446.7" width="5.8" height="2" fill="#262626"/>
<rect x="658.3" y="519.6" width="4.5" height="1.9" fill="#262626"/>
<rect x="658.3" y="526" width="4.5" height="2" fill="#262626"/>
<polygon points="662.8,435.2 666.6,432.9 675.6,433.3 689.6,445.5 689.6,450.6 687.7,451.8 690.3,453.8 690.9,506.8 688.4,513.2 667.9,532.4 664.7,531.7 662.8,526.6 662.1,500.4 667.9,497.2 669.2,494.7 669.2,478.7 662.1,473.6 661.5,441.6" fill="#353535"/>
<polygon points="675.5,451 690.3,453.8 690.9,506.8 688.8,512.5 676.5,521 675,510 675,470" fill="#424242"/>
<polygon points="662.5,442 666,437 675,447 675.5,470 669.2,478.7 662.1,473.6" fill="#2e2e2e"/>
<polygon points="666,434 675.6,433.3 689.6,445.5 689.6,450.6 686.8,450 686.8,461 681.3,461 681.3,451 674,443 666,438" fill="#444"/>
<polyline points="666,437 675,446 680.5,451.5" fill="none" stroke="#222" stroke-width="0.8"/>
<polygon points="663,478 669.2,481 675,479 675,475 669.2,474" fill="#222"/>
<polygon points="662.5,500 668,497.5 675,499 675,503 668,501.5" fill="#222"/>
<rect x="670.3" y="481" width="5.2" height="13.5" fill="#4a4a4a"/>
<rect x="670.9" y="481.6" width="3.9" height="12.3" fill="#141414"/>
<ellipse cx="677.8" cy="452.3" rx="1.1" ry="1.6" fill="#f2f2f2"/>
<path d="M680.6,461.6 L685.7,461.6 Q685.4,466.5 683.2,470.4 Q681,466.5 680.6,461.6 Z" fill="#f4f4f4"/>
<ellipse cx="683.3" cy="461.9" rx="1.6" ry="1.3" fill="#262626"/>
<path d="M683.2,499 Q685.5,502.5 685.7,507 L680.6,507 Q681,502.5 683.2,499 Z" fill="#f4f4f4"/>
<ellipse cx="683.3" cy="506.8" rx="1.6" ry="1.3" fill="#262626"/>
<ellipse cx="677" cy="519.5" rx="1.2" ry="1.6" fill="#ececec"/>
<polygon points="664,529 688.4,513.2 689,515 666.5,532" fill="#222"/>
</g>
</g>
<g id="connplate">
<polygon points="873.2,478.5 900,500 900,506 873.2,485" fill="#3e3e3e"/>
<polygon points="880,442.2 911.5,456.7 911.5,462 880,447.5" fill="#474747"/>
<polygon points="850.4,435.3 861.1,439.6 871.3,436.4 878.9,440.4 887.3,438.4 889.2,439.8 889.2,476.1 884.7,478.6 878.3,480.6 873.2,481.2 872.6,488.9 865.5,494 861.7,493.3 854,488.2 852.8,485 850.9,439" fill="#4f4f4f" stroke="#3a3a3a" stroke-width="0.7"/>
<polygon points="861.1,439.6 871.3,436.4 878.9,440.4 887.3,438.4 889.2,439.8 889.2,476.1 884.7,478.6 878.3,480.6 873.2,481.2 866,480 862.4,478" fill="#575757"/>
<polygon points="865.5,439 871.3,436.8 878.2,440.6 871.8,449.6 866.5,441.5" fill="#383838"/>
<line x1="862.4" y1="440" x2="862.4" y2="459" stroke="#666" stroke-width="0.6"/>
<polygon points="900,462 911.5,457 911.5,468.4 916.6,467.1 925.6,458.8 928.1,460.8 928.1,496.5 924.3,501.6 915.4,504.8 914.1,524.6 911.5,529.7 907.7,529.1 898.7,522.1 898.7,505.5 902.6,501.6 902.6,486.3 900,483.7" fill="#4f4f4f" stroke="#3a3a3a" stroke-width="0.7"/>
<polygon points="911.5,468.4 916.6,467.1 916.6,504.5 915.4,504.8 914.1,524.6 911.5,529.7" fill="#585858"/>
<circle cx="908.5" cy="474.5" r="1" fill="#666"/>
<ellipse cx="855.3" cy="444.2" rx="1.5" ry="2.2" transform="rotate(25 855.3 444.2)" fill="#e6e6e6" stroke="#2a2a2a" stroke-width="0.5"/>
<ellipse cx="884.7" cy="473.5" rx="1.5" ry="2.2" transform="rotate(25 884.7 473.5)" fill="#e6e6e6" stroke="#2a2a2a" stroke-width="0.5"/>
<ellipse cx="859.2" cy="485" rx="1.5" ry="2.2" transform="rotate(25 859.2 485)" fill="#e6e6e6" stroke="#2a2a2a" stroke-width="0.5"/>
<ellipse cx="923" cy="465.9" rx="1.5" ry="2.2" transform="rotate(25 923 465.9)" fill="#e6e6e6" stroke="#2a2a2a" stroke-width="0.5"/>
<ellipse cx="920.5" cy="496.5" rx="1.5" ry="2.2" transform="rotate(25 920.5 496.5)" fill="#e6e6e6" stroke="#2a2a2a" stroke-width="0.5"/>
<ellipse cx="905.8" cy="521.4" rx="1.5" ry="2.2" transform="rotate(25 905.8 521.4)" fill="#e6e6e6" stroke="#2a2a2a" stroke-width="0.5"/>
</g>
<g id="railext">
<polygon points="404,519.3 517,503 517,513.5 404,532.8" fill="#e4e4e4"/>
<polygon points="404,519.3 517,503 517,504.26 404,520.92" fill="#b4b4b4"/>
<polygon points="404,521.46 517,504.68 517,505.52 404,522.54" fill="#8a8a8a"/>
<polygon points="404,522.27 517,505.31 517,508.46 404,526.32" fill="#4c4c4c"/>
<polygon points="404,526.32 517,508.46 517,509.3 404,527.4" fill="#a0a0a0"/>
<polygon points="404,531.45 517,512.45 517,513.5 404,532.8" fill="#a0a0a0"/>
<line x1="404.5" y1="520.3" x2="404.5" y2="532.8" stroke="#8a8a8a" stroke-width="1"/>
<ellipse cx="421.4" cy="525.53" rx="1.4" ry="1" fill="#1a1a1a"/>
<ellipse cx="456.21" cy="519.89" rx="1.4" ry="1" fill="#1a1a1a"/>
<ellipse cx="480.05" cy="516.02" rx="1.4" ry="1" fill="#1a1a1a"/>
<ellipse cx="506.6" cy="511.72" rx="1.4" ry="1" fill="#1a1a1a"/>
<polygon points="404,535.6 517,517.5 517,528 404,549.1" fill="#e4e4e4"/>
<polygon points="404,535.6 517,517.5 517,518.76 404,537.22" fill="#b4b4b4"/>
<polygon points="404,537.76 517,519.18 517,520.02 404,538.84" fill="#8a8a8a"/>
<polygon points="404,538.57 517,519.81 517,522.96 404,542.62" fill="#4c4c4c"/>
<polygon points="404,542.62 517,522.96 517,523.8 404,543.7" fill="#a0a0a0"/>
<polygon points="404,547.75 517,526.95 517,528 404,549.1" fill="#a0a0a0"/>
<line x1="404.5" y1="536.6" x2="404.5" y2="549.1" stroke="#8a8a8a" stroke-width="1"/>
<ellipse cx="421.4" cy="541.55" rx="1.4" ry="1" fill="#1a1a1a"/>
<ellipse cx="456.21" cy="535.35" rx="1.4" ry="1" fill="#1a1a1a"/>
<ellipse cx="480.05" cy="531.11" rx="1.4" ry="1" fill="#1a1a1a"/>
<ellipse cx="506.6" cy="526.39" rx="1.4" ry="1" fill="#1a1a1a"/>
<polygon points="404,552 517,532.5 517,543 404,565.5" fill="#e4e4e4"/>
<polygon points="404,552 517,532.5 517,533.76 404,553.62" fill="#b4b4b4"/>
<polygon points="404,554.16 517,534.18 517,535.02 404,555.24" fill="#8a8a8a"/>
<polygon points="404,554.97 517,534.81 517,537.96 404,559.02" fill="#4c4c4c"/>
<polygon points="404,559.02 517,537.96 517,538.8 404,560.1" fill="#a0a0a0"/>
<polygon points="404,564.15 517,541.95 517,543 404,565.5" fill="#a0a0a0"/>
<line x1="404.5" y1="553" x2="404.5" y2="565.5" stroke="#8a8a8a" stroke-width="1"/>
<ellipse cx="421.4" cy="557.73" rx="1.4" ry="1" fill="#1a1a1a"/>
<ellipse cx="456.21" cy="551.11" rx="1.4" ry="1" fill="#1a1a1a"/>
<ellipse cx="480.05" cy="546.57" rx="1.4" ry="1" fill="#1a1a1a"/>
<ellipse cx="506.6" cy="541.51" rx="1.4" ry="1" fill="#1a1a1a"/>
<polygon points="404,568.5 517,546.5 517,557 404,582" fill="#e4e4e4"/>
<polygon points="404,568.5 517,546.5 517,547.76 404,570.12" fill="#b4b4b4"/>
<polygon points="404,570.66 517,548.18 517,549.02 404,571.74" fill="#8a8a8a"/>
<polygon points="404,571.47 517,548.81 517,551.96 404,575.52" fill="#4c4c4c"/>
<polygon points="404,575.52 517,551.96 517,552.8 404,576.6" fill="#a0a0a0"/>
<polygon points="404,580.65 517,555.95 517,557 404,582" fill="#a0a0a0"/>
<line x1="404.5" y1="569.5" x2="404.5" y2="582" stroke="#8a8a8a" stroke-width="1"/>
<ellipse cx="421.4" cy="573.85" rx="1.4" ry="1" fill="#1a1a1a"/>
<ellipse cx="456.21" cy="566.45" rx="1.4" ry="1" fill="#1a1a1a"/>
<ellipse cx="480.05" cy="561.39" rx="1.4" ry="1" fill="#1a1a1a"/>
<ellipse cx="506.6" cy="555.74" rx="1.4" ry="1" fill="#1a1a1a"/>
</g>
<g id="rail100"><polygon points="197.9,683.3 378.7,695.7 378.7,727.3 197.9,741.25" fill="#6b6c6e"/>
<polygon points="197.9,683.3 378.7,695.7 378.7,697.28 197.9,686.2" fill="#505050"/>
<polygon points="197.9,689.09 378.7,698.86 378.7,700.12 197.9,691.41" fill="#575757"/>
<polygon points="197.9,701.84 378.7,705.81 378.7,708.02 197.9,705.9" fill="#535353"/>
<polygon points="197.9,705.9 378.7,708.02 378.7,708.97 197.9,707.64" fill="#727375"/>
<polygon points="197.9,718.65 378.7,714.98 378.7,717.19 197.9,722.71" fill="#535353"/>
<polygon points="197.9,722.71 378.7,717.19 378.7,718.14 197.9,724.44" fill="#727375"/>
<polygon points="197.9,733.14 378.7,722.88 378.7,724.77 197.9,736.61" fill="#555555"/>
<polygon points="197.9,739.51 378.7,726.35 378.7,727.3 197.9,741.25" fill="#4e4e4e"/>
<rect x="195.9" y="690.25" width="2.5" height="2.9" fill="#2e2e2e"/>
<rect x="195.9" y="697.79" width="2.5" height="9.85" fill="#2e2e2e"/>
<rect x="195.9" y="716.91" width="2.5" height="9.85" fill="#2e2e2e"/>
<rect x="195.9" y="731.98" width="2.5" height="2.9" fill="#2e2e2e"/>
<rect x="378.2" y="696.65" width="2" height="0.95" fill="#2e2e2e"/>
<rect x="378.2" y="702.02" width="2" height="6.95" fill="#2e2e2e"/>
<rect x="378.2" y="713.4" width="2" height="7.58" fill="#2e2e2e"/>
<rect x="378.2" y="725.09" width="2" height="1.26" fill="#2e2e2e"/>
<line x1="198.5" y1="683.3" x2="198.5" y2="741.25" stroke="#3a3a3a" stroke-width="1.2"/></g>
<g id="rail48"><polygon points="514.6,689.6 629.5,699.6 629.5,728.4 514.6,741.25" fill="#6b6c6e"/>
<polygon points="514.6,689.6 629.5,699.6 629.5,701.04 514.6,692.18" fill="#505050"/>
<polygon points="514.6,694.76 629.5,702.48 629.5,703.63 514.6,696.83" fill="#575757"/>
<polygon points="514.6,706.13 629.5,708.82 629.5,710.83 514.6,709.74" fill="#535353"/>
<polygon points="514.6,709.74 629.5,710.83 629.5,711.7 514.6,711.29" fill="#727375"/>
<polygon points="514.6,721.11 629.5,717.17 629.5,719.18 514.6,724.72" fill="#535353"/>
<polygon points="514.6,724.72 629.5,719.18 629.5,720.05 514.6,726.27" fill="#727375"/>
<polygon points="514.6,734.02 629.5,724.37 629.5,726.1 514.6,737.12" fill="#555555"/>
<polygon points="514.6,739.7 629.5,727.54 629.5,728.4 514.6,741.25" fill="#4e4e4e"/>
<rect x="512.6" y="695.8" width="2.5" height="2.58" fill="#2e2e2e"/>
<rect x="512.6" y="702.51" width="2.5" height="8.78" fill="#2e2e2e"/>
<rect x="512.6" y="719.56" width="2.5" height="8.78" fill="#2e2e2e"/>
<rect x="512.6" y="732.99" width="2.5" height="2.58" fill="#2e2e2e"/>
<rect x="629" y="700.46" width="2" height="0.86" fill="#2e2e2e"/>
<rect x="629" y="705.36" width="2" height="6.34" fill="#2e2e2e"/>
<rect x="629" y="715.73" width="2" height="6.91" fill="#2e2e2e"/>
<rect x="629" y="726.38" width="2" height="1.15" fill="#2e2e2e"/>
<line x1="515.2" y1="689.6" x2="515.2" y2="741.25" stroke="#3a3a3a" stroke-width="1.2"/></g>
<g id="labels" class="t">
<text x="619" y="329">400mm</text>
<text x="619" y="343">Micro Adjustable arms x18</text>
<text x="619" y="360">EAN: 7350073733798</text>
<text x="831" y="340">AL plastic cap x3</text>
<text x="831" y="360">EAN: 7350073733699</text>
<text x="623" y="553">Cable Management Clip x2</text>
<text x="623" y="568.5">EAN: 7350073737482</text>
<text x="830" y="551">Connecting plate x18</text>
<text x="830" y="568">EAN: 7350073736973</text>
<text x="400" y="614">Rail Extension x24</text>
<text x="397" y="629">EAN: 7350073733682</text>
<text x="195" y="772">Single Screen Rail 100cm Black x21</text>
<text x="195" y="791">EAN: 7350073738021</text>
<text x="487" y="772">Single Screen Rail 48cm Black x6</text>
<text x="487" y="791">EAN: 7350073735082</text>
<text x="754" y="775">Large Floorplate x6</text>
<text x="754" y="792">EAN: 7350105212895</text>
<text x="945" y="773">Column 300cm x6</text>
<text x="945" y="791">EAN: 7350105212550</text>
</g>
</svg>
</body></html>
